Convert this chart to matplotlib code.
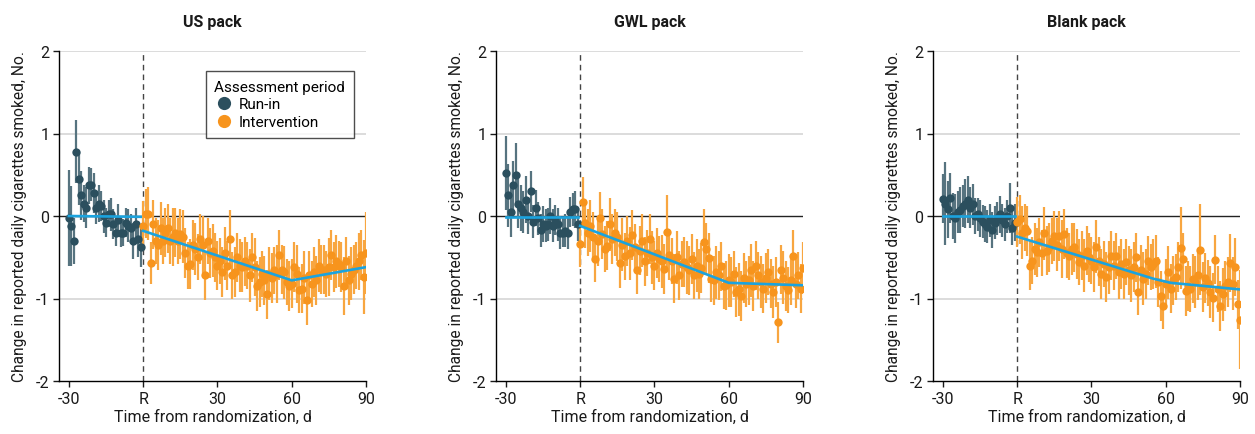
import matplotlib
matplotlib.use("Agg")
import matplotlib.pyplot as plt
from matplotlib.lines import Line2D
import numpy as np

plt.rcParams['font.family'] = ['Roboto', 'DejaVu Sans']
plt.rcParams['axes.unicode_minus'] = False

# ---------------- data ----------------
panel_titles = ["US pack", "GWL pack", "Blank pack"]
runin_days = list(range(-30, 0))
interv_days = list(range(0, 91))
xtick_vals = [-30, 0, 30, 60, 90]
xtick_labels = ["-30", "R", "30", "60", "90"]
ytick_vals = [-2, -1, 0, 1, 2]
ytick_labels = ["-2", "-1", "0", "1", "2"]

us_runin = [-0.02, -0.12, -0.30, 0.78, 0.45, 0.25, 0.15, 0.10, 0.37, 0.38,
            0.28, 0.10, 0.15, 0.12, 0.00, -0.08, 0.03, 0.02, -0.10, -0.20,
            -0.05, -0.20, -0.20, -0.08, -0.12, -0.15, -0.30, -0.10, -0.28, -0.38]
us_runin_err = [0.58, 0.48, 0.28, 0.38, 0.32, 0.30, 0.22, 0.25, 0.22, 0.20,
                0.24, 0.20, 0.22, 0.18, 0.20, 0.18, 0.16, 0.20, 0.18, 0.16,
                0.20, 0.18, 0.16, 0.18, 0.20, 0.18, 0.22, 0.20, 0.22, 0.24]
us_interv = [-0.12, 0.03, 0.03, -0.57, -0.10, -0.30, -0.35, -0.15, -0.30, -0.20,
             -0.15, -0.30, -0.25, -0.20, -0.30, -0.22, -0.25, -0.45, -0.60, -0.58,
             -0.35, -0.40, -0.50, -0.28, -0.35, -0.72, -0.30, -0.45, -0.42, -0.50,
             -0.60, -0.55, -0.68, -0.45, -0.60, -0.28, -0.72, -0.68, -0.50, -0.60,
             -0.62, -0.55, -0.60, -0.72, -0.50, -0.62, -0.85, -0.80, -0.70, -0.78,
             -0.95, -0.70, -0.75, -0.66, -0.70, -0.47, -0.65, -0.68, -0.80, -0.85,
             -0.82, -0.62, -0.70, -0.90, -0.88, -0.75, -1.02, -0.72, -0.82, -0.68,
             -0.78, -0.60, -0.65, -0.65, -0.70, -0.62, -0.47, -0.62, -0.55, -0.58,
             -0.62, -0.85, -0.55, -0.78, -0.70, -0.65, -0.60, -0.55, -0.47, -0.74,
             -0.45]
us_interv_err = [0.30, 0.30, 0.32, 0.25, 0.30, 0.28, 0.30, 0.32, 0.28, 0.30,
                 0.30, 0.28, 0.35, 0.30, 0.28, 0.30, 0.32, 0.30, 0.28, 0.30,
                 0.30, 0.32, 0.28, 0.30, 0.35, 0.30, 0.28, 0.30, 0.32, 0.30,
                 0.30, 0.28, 0.30, 0.32, 0.30, 0.35, 0.28, 0.30, 0.30, 0.32,
                 0.30, 0.30, 0.28, 0.32, 0.30, 0.35, 0.30, 0.30, 0.28, 0.30,
                 0.30, 0.32, 0.30, 0.28, 0.35, 0.30, 0.30, 0.32, 0.28, 0.30,
                 0.30, 0.30, 0.35, 0.28, 0.30, 0.32, 0.30, 0.30, 0.28, 0.30,
                 0.30, 0.32, 0.30, 0.30, 0.28, 0.35, 0.30, 0.30, 0.32, 0.28,
                 0.30, 0.35, 0.30, 0.30, 0.32, 0.30, 0.28, 0.35, 0.30, 0.45,
                 0.50]
us_fit_runin_x = [-30, -1]
us_fit_runin_y = [0.0, -0.01]
us_fit_x = [0, 60, 90]
us_fit_y = [-0.18, -0.78, -0.62]

gwl_runin = [0.52, 0.25, 0.05, 0.37, 0.50, 0.15, 0.10, 0.05, 0.20, 0.00,
             0.30, -0.07, 0.10, -0.03, -0.17, -0.10, -0.12, -0.10, 0.00, -0.12,
             -0.05, -0.10, -0.20, -0.20, -0.18, -0.20, 0.05, 0.08, 0.08, -0.10]
gwl_runin_err = [0.45, 0.38, 0.30, 0.30, 0.38, 0.30, 0.28, 0.25, 0.28, 0.22,
                 0.25, 0.20, 0.22, 0.20, 0.20, 0.22, 0.20, 0.20, 0.22, 0.20,
                 0.18, 0.20, 0.20, 0.18, 0.20, 0.20, 0.18, 0.20, 0.22, 0.20]
gwl_interv = [-0.34, 0.17, -0.09, -0.20, -0.12, -0.25, -0.52, -0.30, -0.03, -0.22,
              -0.40, -0.36, -0.10, -0.28, -0.20, -0.25, -0.57, -0.35, -0.49, -0.30,
              -0.45, -0.23, -0.38, -0.65, -0.42, -0.30, -0.55, -0.45, -0.28, -0.50,
              -0.60, -0.45, -0.52, -0.55, -0.64, -0.19, -0.47, -0.55, -0.76, -0.50,
              -0.72, -0.58, -0.56, -0.62, -0.66, -0.52, -0.72, -0.60, -0.70, -0.63,
              -0.32, -0.40, -0.51, -0.76, -0.78, -0.68, -0.72, -0.61, -0.85, -0.84,
              -0.78, -0.80, -0.70, -0.92, -0.89, -0.97, -0.75, -0.82, -0.78, -0.66,
              -0.85, -0.60, -0.72, -0.80, -0.88, -0.75, -0.68, -0.82, -0.92, -0.80,
              -1.29, -0.65, -0.75, -0.85, -0.90, -0.78, -0.49, -0.82, -0.72, -0.88,
              -0.63]
gwl_interv_err = [0.28, 0.30, 0.30, 0.28, 0.32, 0.30, 0.28, 0.30, 0.32, 0.30,
                  0.28, 0.30, 0.32, 0.30, 0.28, 0.30, 0.30, 0.32, 0.28, 0.30,
                  0.32, 0.30, 0.28, 0.30, 0.30, 0.32, 0.30, 0.28, 0.30, 0.32,
                  0.30, 0.30, 0.28, 0.32, 0.30, 0.45, 0.30, 0.28, 0.30, 0.32,
                  0.30, 0.28, 0.30, 0.32, 0.30, 0.30, 0.28, 0.32, 0.30, 0.30,
                  0.40, 0.32, 0.30, 0.28, 0.30, 0.32, 0.30, 0.30, 0.28, 0.30,
                  0.32, 0.30, 0.28, 0.30, 0.32, 0.30, 0.30, 0.28, 0.30, 0.32,
                  0.30, 0.30, 0.28, 0.32, 0.30, 0.30, 0.28, 0.30, 0.32, 0.30,
                  0.25, 0.30, 0.32, 0.30, 0.28, 0.30, 0.32, 0.30, 0.28, 0.30,
                  0.32]
gwl_fit_runin_x = [-30, -1]
gwl_fit_runin_y = [-0.01, -0.01]
gwl_fit_x = [0, 60, 90]
gwl_fit_y = [-0.12, -0.81, -0.84]

blank_runin = [0.21, 0.15, 0.08, 0.22, 0.00, -0.03, 0.05, 0.07, 0.12, 0.15,
               0.20, 0.10, 0.14, 0.00, 0.02, -0.03, -0.07, -0.10, -0.13, -0.05,
               -0.17, -0.08, -0.03, 0.02, -0.05, -0.10, 0.00, 0.10, -0.15, -0.08]
blank_runin_err = [0.30, 0.50, 0.35, 0.30, 0.28, 0.30, 0.25, 0.28, 0.25, 0.30,
                   0.28, 0.25, 0.25, 0.22, 0.20, 0.22, 0.20, 0.22, 0.20, 0.20,
                   0.22, 0.20, 0.20, 0.22, 0.20, 0.20, 0.20, 0.30, 0.20, 0.22]
blank_interv = [-0.07, -0.04, -0.20, -0.14, -0.18, -0.60, -0.54, -0.40, -0.44, -0.32,
                -0.45, -0.21, -0.42, -0.38, -0.30, -0.24, -0.35, -0.24, -0.40, -0.22,
                -0.45, -0.49, -0.40, -0.38, -0.46, -0.56, -0.48, -0.60, -0.42, -0.50,
                -0.54, -0.62, -0.37, -0.55, -0.70, -0.58, -0.74, -0.62, -0.48, -0.60,
                -0.48, -0.68, -0.58, -0.70, -0.56, -0.66, -0.72, -0.62, -0.50, -0.92,
                -0.65, -0.76, -0.70, -0.54, -0.62, -0.58, -0.55, -0.80, -0.97, -1.09,
                -0.82, -0.68, -0.88, -0.78, -0.74, -0.62, -0.39, -0.52, -0.91, -0.85,
                -0.88, -0.76, -0.80, -0.72, -0.41, -0.86, -0.75, -0.81, -0.92, -0.99,
                -0.53, -0.88, -1.09, -0.95, -0.85, -0.80, -0.57, -0.82, -0.62, -1.07,
                -1.26]
blank_interv_err = [0.30, 0.30, 0.32, 0.28, 0.30, 0.30, 0.28, 0.32, 0.30, 0.30,
                    0.28, 0.32, 0.30, 0.30, 0.28, 0.30, 0.32, 0.30, 0.35, 0.30,
                    0.30, 0.28, 0.32, 0.30, 0.30, 0.28, 0.30, 0.32, 0.30, 0.30,
                    0.28, 0.30, 0.32, 0.30, 0.30, 0.28, 0.30, 0.32, 0.30, 0.30,
                    0.28, 0.32, 0.30, 0.30, 0.28, 0.30, 0.32, 0.30, 0.30, 0.28,
                    0.30, 0.32, 0.30, 0.30, 0.28, 0.30, 0.32, 0.30, 0.30, 0.28,
                    0.30, 0.32, 0.30, 0.30, 0.28, 0.30, 0.50, 0.32, 0.30, 0.30,
                    0.28, 0.30, 0.32, 0.30, 0.55, 0.30, 0.30, 0.28, 0.32, 0.30,
                    0.30, 0.28, 0.30, 0.32, 0.30, 0.30, 0.35, 0.32, 0.35, 0.30,
                    0.60]
blank_fit_runin_x = [-30, -1]
blank_fit_runin_y = [0.0, 0.0]
blank_fit_x = [0, 55, 62, 90]
blank_fit_y = [-0.25, -0.76, -0.81, -0.89]

panels = [
    (us_runin, us_runin_err, us_interv, us_interv_err, us_fit_runin_x, us_fit_runin_y, us_fit_x, us_fit_y),
    (gwl_runin, gwl_runin_err, gwl_interv, gwl_interv_err, gwl_fit_runin_x, gwl_fit_runin_y, gwl_fit_x, gwl_fit_y),
    (blank_runin, blank_runin_err, blank_interv, blank_interv_err, blank_fit_runin_x, blank_fit_runin_y, blank_fit_x, blank_fit_y),
]

# ---------------- style ----------------
RUNIN_C = "#2b4f5e"
RUNIN_EC = "#56737f"
INTERV_C = "#f7941d"
INTERV_EC = "#f8a640"
FIT_C = "#1ba3de"
GRID_C = "#dcdcdc"
TEXT_C = "#1a1a1a"

W, H = 1255, 435
fig = plt.figure(figsize=(W / 100, H / 100), dpi=100)

lefts = [59, 496, 933]
ax_w = 307
ax_bottom = 382
ax_top = 52

for i, (title, data) in enumerate(zip(panel_titles, panels)):
    ri, ri_e, iv, iv_e, frx, fry, fx, fy = data
    ax = fig.add_axes([lefts[i] / W, (H - ax_bottom) / H, ax_w / W, (ax_bottom - ax_top) / H])
    ax.set_xlim(-34, 90)
    ax.set_ylim(-2, 2)
    for yv in [1, -1, 2]:
        ax.axhline(yv, color=GRID_C, lw=1.4, zorder=0)
    ax.axhline(0, color="#222222", lw=1.0, zorder=1)
    ax.axvline(0, color="#444444", lw=1.0, ls=(0, (4, 3)), zorder=1)

    ax.errorbar(runin_days, ri, yerr=ri_e, fmt='none', ecolor=RUNIN_EC, elinewidth=1.6, zorder=2)
    ax.errorbar(interv_days, iv, yerr=iv_e, fmt='none', ecolor=INTERV_EC, elinewidth=1.6, zorder=2)
    ax.plot(runin_days, ri, 'o', color=RUNIN_C, ms=6, mec='none', zorder=3)
    ax.plot(interv_days, iv, 'o', color=INTERV_C, ms=6, mec='none', zorder=3)
    ax.plot(frx, fry, color=FIT_C, lw=1.9, zorder=4)
    ax.plot(fx, fy, color=FIT_C, lw=1.9, zorder=4)

    ax.spines['top'].set_visible(False)
    ax.spines['right'].set_visible(False)
    ax.spines['left'].set_linewidth(1.0)
    ax.spines['bottom'].set_linewidth(1.0)
    ax.set_xticks(xtick_vals)
    ax.set_xticklabels(xtick_labels)
    ax.set_yticks(ytick_vals)
    ax.set_yticklabels(ytick_labels)
    ax.tick_params(axis='both', labelsize=11.5, colors=TEXT_C, length=4, width=1.0, pad=3)
    ax.set_title(title, fontsize=11.5, fontweight='bold', color=TEXT_C, pad=18)
    ax.set_xlabel("Time from randomization, d", fontsize=11.5, color=TEXT_C, labelpad=2)
    ax.set_ylabel("Change in reported daily cigarettes smoked, No.", fontsize=11.2, color=TEXT_C, labelpad=6)

    if i == 0:
        handles = [
            Line2D([], [], marker='o', ls='none', color=RUNIN_C, ms=9.5, mec='none', label="Run-in"),
            Line2D([], [], marker='o', ls='none', color=INTERV_C, ms=9.5, mec='none', label="Intervention"),
        ]
        leg = ax.legend(handles=handles, title="Assessment period", loc='upper right',
                        bbox_to_anchor=(0.985, 0.962), fontsize=11, title_fontsize=11,
                        frameon=True, fancybox=False, edgecolor="#222222",
                        handletextpad=0.4, borderpad=0.55, labelspacing=0.25, handlelength=1.2)
        leg.get_frame().set_linewidth(1.0)
        leg._legend_box.align = "left"

fig.savefig("out.png", dpi=100)
